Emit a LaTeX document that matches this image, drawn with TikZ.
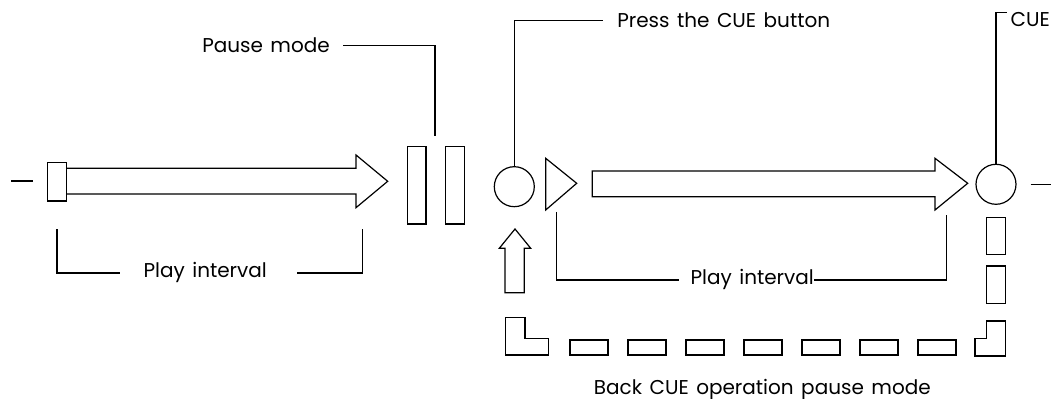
\documentclass[tikz,border=0pt]{standalone}
\usepackage{fontspec}
\setmainfont{Poppins}[WordSpace=1.4]
\usetikzlibrary{positioning,calc}

\begin{document}
\begin{tikzpicture}[x=0.5pt, y=-0.5pt, line width=0.6pt,
    lbl/.style={anchor=base west, inner sep=0pt, font=\fontsize{10}{12}\selectfont},
    knob/.style={draw, circle, minimum size=20pt, inner sep=0pt}]

    \useasboundingbox (0,0) rectangle (1051,399);

    % first play stretch
    \draw (11,181) -- (33,181);
    \draw (47.7,162.7) rectangle (66.7,201);
    \draw (66.7,168.3) -- (356,168.3) -- (356,155) -- (387.7,181.3)
        -- (356,207.7) -- (356,194) -- (66.7,194);

    % pause bars
    \draw (407.7,146.7) rectangle (426,224);
    \draw (445.7,146.7) rectangle (464.3,224);

    % cue points
    \node [knob] (cue1) at (514.3,186.7) {};
    \node [knob] (cue2) at (996,184.3) {};
    \draw (1030.7,184.3) -- (1051,184.3);

    % play sign and second stretch
    \draw (545.7,158.3) -- (576.7,183.3) -- (545.7,210) -- cycle;
    \draw (592.3,171) -- (935,171) -- (935,158.3) -- (967.7,183.3)
        -- (935,210) -- (935,196.7) -- (592.3,196.7) -- cycle;

    % back cue loop
    \draw (505,292.7) -- (505,248.3) -- (499.3,248.3) -- (515,229)
        -- (530.7,248.3) -- (524.3,248.3) -- (524.3,292.7) -- cycle;
    \draw (505.7,317.7) -- (525,317.7) -- (525,338.3) -- (548.3,338.3)
        -- (548.3,355) -- (505.7,355) -- cycle;
    \foreach \i in {0,...,6}
        \draw (570+58*\i,340) rectangle ++(38,15);
    \draw (986.7,321) -- (1005.7,321) -- (1005.7,356) -- (975,356)
        -- (975,338.3) -- (986.7,338.3) -- cycle;
    \foreach \y in {217.3,266}
        \draw (986.7,\y) rectangle ++(19,37.5);

    % labels
    \node [lbl] (pause) at (201.7,53) {Pause mode};
    \node [lbl] (press) at (616.7,28) {Press the CUE button};
    \node [lbl] (cue) at (1010,27) {CUE};
    \node [lbl] (play1) at (143,278) {Play interval};
    \node [lbl] (play2) at (690,285) {Play interval};
    \node [lbl] (back) at (593.3,394.3) {Back CUE operation pause mode};

    % leader lines
    \coordinate (pausetip) at (435,135.7);
    \coordinate (p1l) at (57,229.3);
    \coordinate (p1r) at (362.7,229.3);
    \coordinate (p2l) at (556.7,212);
    \coordinate (p2r) at (946.7,215);
    \draw ([xshift=6.5pt]pause.east) -| (pausetip);
    \draw (cue1.north) |- ([xshift=-7pt]press.west);
    \draw (cue2.north) |- ([xshift=-1.5pt]cue.north west);
    \draw (p1l) |- ([xshift=-11.5pt]play1.west);
    \draw ([xshift=15pt]play1.east) -| (p1r);
    \draw (p2l) |- ([xshift=-5.5pt]play2.west);
    \draw (play2.east) -| (p2r);

\end{tikzpicture}
\end{document}
